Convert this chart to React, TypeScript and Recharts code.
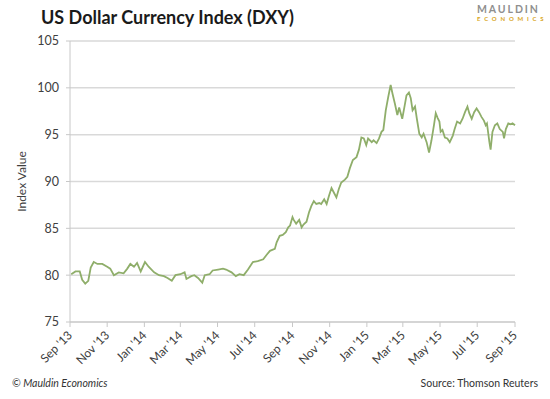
import React from 'react';
import { LineChart, Line, XAxis, YAxis, CartesianGrid } from 'recharts';

// days since 1 Sep 2013
const days = [
  2, 9, 16, 20, 25, 30, 34, 39, 45, 53, 61, 66, 72, 80, 88, 94, 99, 105, 110, 116,
  123, 129, 138, 146, 154, 160, 167, 173, 181, 188, 191, 199, 204, 210, 217, 221, 229, 234, 243, 251,
  256, 265, 272, 278, 285, 292, 300, 308, 317, 323, 328, 336, 339, 344, 349, 354, 358, 361, 365, 367,
  371, 376, 380, 383, 388, 392, 396, 400, 404, 409, 412, 417, 421, 425, 429, 433, 437, 441, 445, 451,
  455, 459, 464, 470, 474, 478, 482, 486, 489, 495, 498, 503, 507, 511, 514, 518, 522, 526, 529, 533,
  537, 540, 545, 549, 552, 556, 559, 562, 566, 569, 573, 577, 580, 585, 589, 593, 597, 600, 603, 606,
  608, 611, 615, 619, 623, 628, 631, 635, 640, 644, 648, 652, 655, 659, 663, 667, 671, 675, 679, 682,
  684, 688, 690, 693, 697, 701, 705, 710, 712, 715, 719, 723, 726, 730,
];

const dxy = [
  80.1, 80.4, 80.4, 79.5, 79.1, 79.4, 80.8, 81.4, 81.2, 81.2, 80.9, 80.7, 80.0, 80.3, 80.2, 80.7, 81.2, 80.9, 81.3, 80.4,
  81.4, 80.9, 80.3, 80.0, 79.9, 79.7, 79.4, 80.0, 80.1, 80.3, 79.6, 79.9, 80.0, 79.7, 79.2, 80.0, 80.1, 80.5, 80.6, 80.7,
  80.6, 80.3, 79.9, 80.1, 80.0, 80.6, 81.4, 81.5, 81.7, 82.2, 82.6, 82.8, 83.5, 84.2, 84.3, 84.6, 85.1, 85.3, 86.2, 85.9,
  85.5, 85.9, 85.1, 85.4, 85.7, 86.7, 87.4, 87.9, 87.6, 87.7, 87.6, 88.1, 87.6, 88.5, 89.3, 88.8, 88.3, 89.2, 89.9, 90.2,
  90.5, 91.4, 92.3, 92.6, 93.4, 94.7, 94.6, 93.9, 94.6, 94.2, 94.4, 94.1, 94.6, 95.3, 95.5, 97.6, 99.0, 100.3, 99.4, 98.3,
  97.1, 97.9, 96.7, 98.1, 99.2, 99.5, 98.9, 97.6, 98.0, 96.7, 95.1, 94.7, 95.1, 94.2, 93.1, 94.4, 96.0, 97.3, 96.8, 96.4,
  95.3, 95.5, 94.7, 94.6, 94.2, 94.9, 95.6, 96.4, 96.2, 96.7, 97.4, 98.0, 97.3, 96.7, 97.4, 97.8, 97.4, 96.9, 96.5, 96.0,
  96.2, 94.2, 93.4, 95.3, 96.0, 96.2, 95.6, 95.3, 94.6, 95.6, 96.2, 96.1, 96.2, 96.0,
];

const tickDays = [0, 61, 122, 181, 242, 303, 365, 426, 487, 546, 607, 668, 730];
const tickLabels = [
  "Sep '13", "Nov '13", "Jan '14", "Mar '14", "May '14", "Jul '14", "Sep '14",
  "Nov '14", "Jan '15", "Mar '15", "May '15", "Jul '15", "Sep '15",
];
const yTicks = [75, 80, 85, 90, 95, 100, 105];

const data = days.map((d, i) => ({ day: d, value: dxy[i] }));

const FONT = 'Lato, "Open Sans", sans-serif';

const XTick = (props: any) => {
  const { x, y, payload } = props;
  const i = tickDays.indexOf(payload.value);
  const ax = x + 3;
  const ay = y + 7;
  return (
    <text
      x={ax}
      y={ay}
      transform={`rotate(-45 ${ax} ${ay})`}
      textAnchor="end"
      fontSize={12}
      fill="#404040"
      fontFamily={FONT}
    >
      {tickLabels[i]}
    </text>
  );
};

export default function App() {
  return (
    <div
      style={{
        position: 'absolute',
        left: 0,
        top: 0,
        width: 550,
        height: 399,
        background: '#fff',
        fontFamily: FONT,
        overflow: 'hidden',
      }}
    >
      <div
        style={{
          position: 'absolute',
          left: 41,
          top: 6,
          fontSize: 18,
          fontWeight: 700,
          color: '#1a1a1a',
        }}
      >
        US Dollar Currency Index (DXY)
      </div>
      <div style={{ position: 'absolute', left: 477, top: 4, textAlign: 'left' }}>
        <div style={{ fontSize: 10.5, fontWeight: 700, letterSpacing: 1.9, color: '#8f8f8f', lineHeight: '11px' }}>
          MAULDIN
        </div>
        <div style={{ fontSize: 6, fontWeight: 700, letterSpacing: 3.8, color: '#d9a521', lineHeight: '8px' }}>
          ECONOMICS
        </div>
      </div>

      <LineChart
        width={550}
        height={399}
        data={data}
        margin={{ top: 41, right: 35, bottom: 0, left: 0 }}
      >
        <CartesianGrid vertical={false} stroke="#d9d9d9" strokeWidth={1.5} />
        <XAxis
          dataKey="day"
          type="number"
          domain={[0, 730]}
          ticks={tickDays}
          interval={0}
          height={77}
          tickSize={5}
          stroke="#c8c8c8"
          tick={<XTick />}
        />
        <YAxis
          domain={[75, 105]}
          ticks={yTicks}
          width={70}
          tickSize={4}
          tickMargin={7}
          stroke="#c8c8c8"
          tick={{ fill: '#404040', fontSize: 12.5, fontFamily: FONT }}
          label={{
            value: 'Index Value',
            angle: -90,
            position: 'insideLeft',
            offset: 22,
            style: { textAnchor: 'middle', fill: '#404040', fontSize: 12, fontFamily: FONT },
          }}
        />
        <Line
          type="linear"
          dataKey="value"
          stroke="#8fae6a"
          strokeWidth={1.8}
          dot={false}
          isAnimationActive={false}
        />
      </LineChart>

      <div
        style={{
          position: 'absolute',
          left: 12,
          top: 377,
          fontSize: 10.5,
          fontStyle: 'italic',
          color: '#333',
        }}
      >
        © Mauldin Economics
      </div>
      <div
        style={{
          position: 'absolute',
          right: 12,
          top: 377,
          fontSize: 10.5,
          color: '#333',
        }}
      >
        Source: Thomson Reuters
      </div>
    </div>
  );
}
